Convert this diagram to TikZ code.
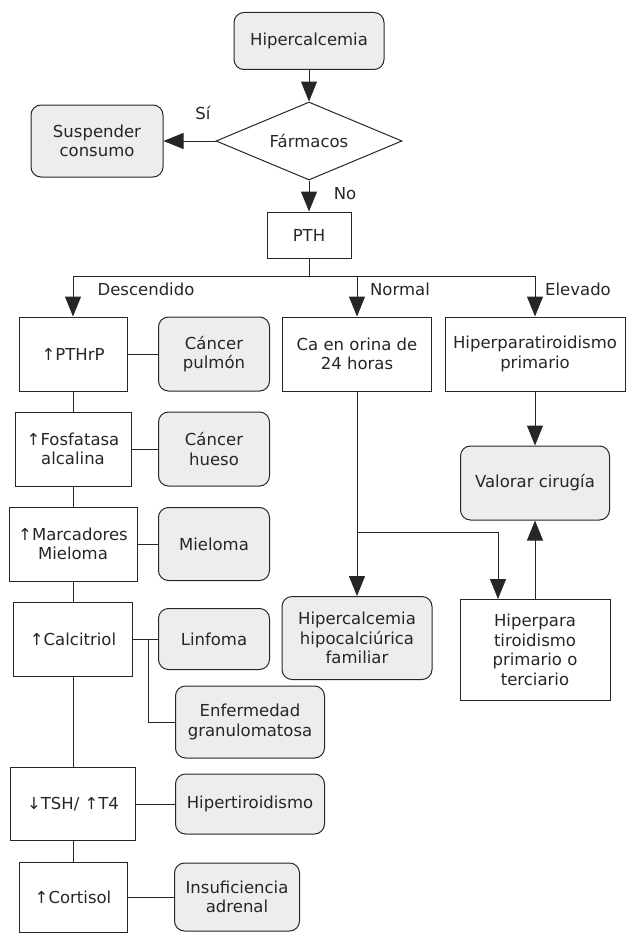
\documentclass[tikz,border=0pt]{standalone}
\usepackage{fontspec}
\setmainfont{DejaVu Sans}
\usetikzlibrary{arrows.meta,shapes.geometric}
\begin{document}
\begin{tikzpicture}[x=1pt,y=-1pt,
  base/.style={draw=black!85, line width=1pt, font=\fontsize{16.5}{19.5}\selectfont, align=center, inner sep=0pt, text=black!85},
  sq/.style={base, rectangle, fill=white},
  rnd/.style={base, rectangle, rounded corners=10pt, fill=black!7},
  conn/.style={draw=black!85, line width=1pt},
  arr/.style={conn, -{Triangle[length=20pt,width=16pt]}},
  lbl/.style={font=\fontsize{16.5}{19}\selectfont, inner sep=0pt, text=black!85}]
\useasboundingbox (0,0) rectangle (625,934);
% top
\node[rnd, minimum width=150pt, minimum height=57pt] (hip) at (309,41) {Hipercalcemia};
\node[base, diamond, aspect=2.4, minimum width=186pt, minimum height=78pt] (farm) at (309,141) {Fármacos};
\node[rnd, minimum width=132pt, minimum height=72pt] (susp) at (97,141) {Suspender\\consumo};
\node[sq, minimum width=84pt, minimum height=46pt] (pth) at (309,235) {PTH};
\node[lbl] (lsi) at (203,113) {Sí};
\node[lbl] (lno) at (345,194) {No};
\coordinate (split) at (309,276);
% left column
\node[sq, minimum width=108pt, minimum height=74pt] (pthrp) at (73,354) {↑PTHrP};
\node[rnd, minimum width=111pt, minimum height=74pt] (cpul) at (214,354) {Cáncer\\pulmón};
\node[sq, minimum width=116pt, minimum height=74pt] (fosf) at (73,449) {↑Fosfatasa\\alcalina};
\node[rnd, minimum width=111pt, minimum height=74pt] (chue) at (214,449) {Cáncer\\hueso};
\node[sq, minimum width=128pt, minimum height=74pt] (marc) at (73,544) {↑Marcadores\\Mieloma};
\node[rnd, minimum width=111pt, minimum height=73pt] (miel) at (214,544) {Mieloma};
\node[sq, minimum width=119pt, minimum height=74pt] (calc) at (73,639) {↑Calcitriol};
\node[rnd, minimum width=111pt, minimum height=61pt] (linf) at (214,639) {Linfoma};
\node[rnd, minimum width=149pt, minimum height=72pt] (enf) at (250,722) {Enfermedad\\granulomatosa};
\node[sq, minimum width=125pt, minimum height=73pt] (tsh) at (73,804) {↓TSH/ ↑T4};
\node[rnd, minimum width=149pt, minimum height=60pt] (hipt) at (250,804) {Hipertiroidismo};
\node[sq, minimum width=108pt, minimum height=70pt] (cort) at (73,897) {↑Cortisol};
\node[rnd, minimum width=125pt, minimum height=68pt] (insu) at (237,897) {Insuficiencia\\adrenal};
\coordinate (cb) at (148,639);
% middle and right
\node[sq, minimum width=149pt, minimum height=74pt] (caor) at (357,354) {Ca en orina de\\24 horas};
\node[rnd, minimum width=150pt, minimum height=83pt] (hhf) at (357,638) {Hipercalcemia\\hipocalciúrica\\familiar};
\node[sq, minimum width=180pt, minimum height=74pt] (hpp) at (535,354) {Hiperparatiroidismo\\primario};
\node[rnd, minimum width=149pt, minimum height=74pt] (val) at (535,483) {Valorar cirugía};
\node[sq, minimum width=150pt, minimum height=101pt] (hpt) at (535,650) {Hiperpara\\tiroidismo\\primario o\\terciario};
\coordinate (mb) at (357,532);
% labels
\node[lbl] (ldesc) at (146,289) {Descendido};
\node[lbl] (lnorm) at (400,289) {Normal};
\node[lbl] (lelev) at (578,289) {Elevado};
% connectors
\draw[arr] (hip) -- (farm);
\draw[arr] (farm.west) -- (susp.east);
\draw[arr] (farm.south) -- (pth.north);
\draw[conn] (pth.south) -- (split);
\draw[arr] (split) -| (pthrp.north);
\draw[arr] (split) -| (caor.north);
\draw[arr] (split) -| (hpp.north);
\draw[conn] (pthrp) -- (fosf);
\draw[conn] (fosf) -- (marc);
\draw[conn] (marc) -- (calc);
\draw[conn] (calc) -- (tsh);
\draw[conn] (tsh) -- (cort);
\draw[conn] (pthrp) -- (cpul);
\draw[conn] (fosf) -- (chue);
\draw[conn] (marc) -- (miel);
\draw[conn] (calc) -- (linf);
\draw[conn] (cb) |- (enf.west);
\draw[conn] (tsh) -- (hipt);
\draw[conn] (cort) -- (insu);
\draw[arr] (caor.south) -- (hhf.north);
\draw[arr] (mb) -| ([xshift=-37pt]hpt.north);
\draw[arr] (hpp.south) -- (val.north);
\draw[arr] (hpt.north) -- (val.south);
\end{tikzpicture}
\end{document}
